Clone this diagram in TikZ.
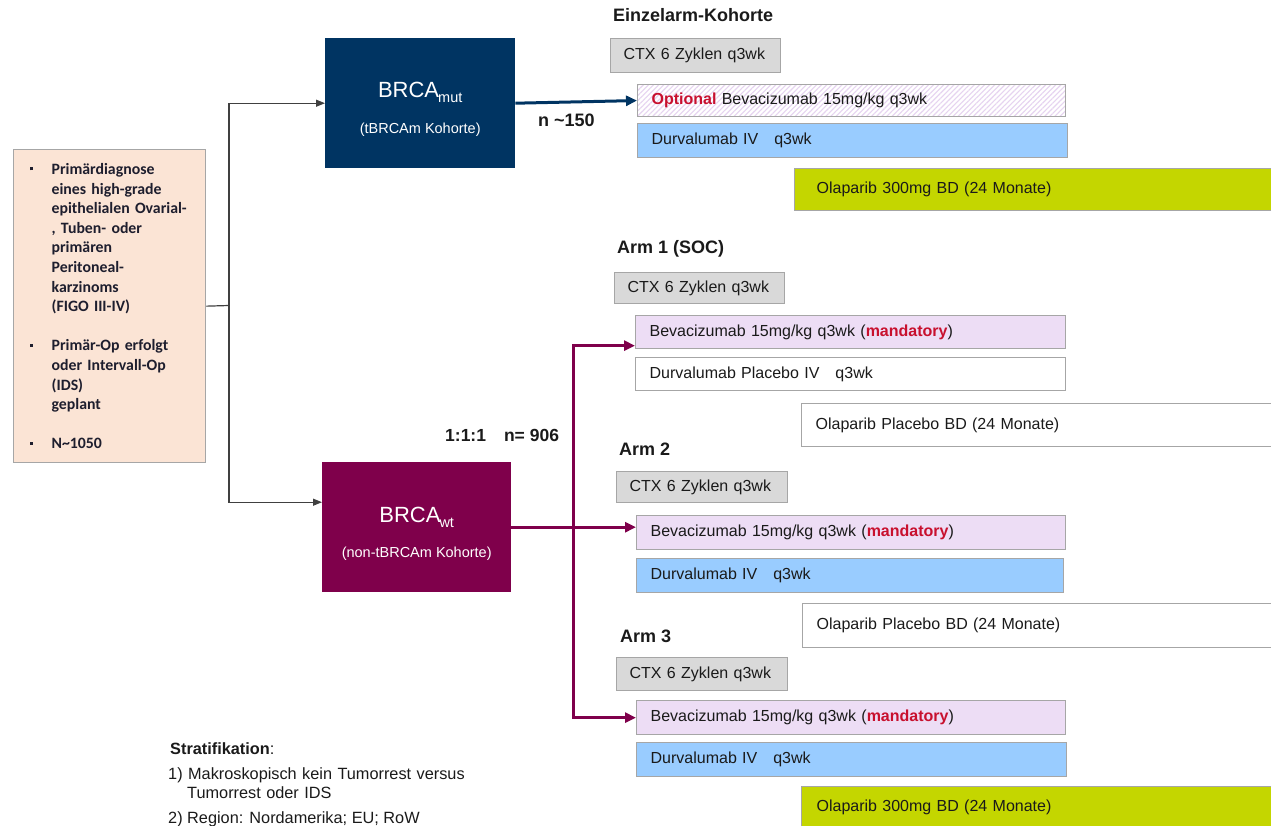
\documentclass[tikz,border=0pt]{standalone}
\usepackage{fontspec}
\setmainfont{Liberation Sans}
\newfontfamily\calib{Carlito}
\usetikzlibrary{arrows.meta,patterns.meta}
\definecolor{navy}{HTML}{003462}
\definecolor{plum}{HTML}{7F004B}
\definecolor{peach}{HTML}{FBE4D5}
\definecolor{ctxgray}{HTML}{D9D9D9}
\definecolor{edge}{HTML}{A6A6A6}
\definecolor{lav}{HTML}{EDDDF5}
\definecolor{skyb}{HTML}{99CCFF}
\definecolor{lime}{HTML}{C4D600}
\definecolor{redtx}{HTML}{C8102E}
\definecolor{txt}{HTML}{1A1A1A}
\definecolor{hatchc}{HTML}{E6D3F0}
\definecolor{lefttx}{HTML}{1E1E2E}
\newcommand{\blt}{\makebox[23pt][l]{\hspace*{1pt}\raisebox{4pt}{\rule{3pt}{3pt}}}}
\begin{document}
\begin{tikzpicture}[x=1pt,y=-1pt,
  bx/.style={draw=edge, line width=1.3pt, anchor=north west, inner ysep=0pt, inner xsep=14pt, align=left, font=\fontsize{16}{19}\selectfont, text=txt},
  ctx/.style={bx, fill=ctxgray, inner xsep=13pt},
  bev/.style={bx, fill=lav},
  durv/.style={bx, fill=skyb},
  plc/.style={bx, fill=white},
  ola/.style={bx, fill=lime},
  head/.style={anchor=west, inner sep=0pt, font=\fontsize{18}{21}\selectfont\bfseries, text=txt},
  cohort/.style={anchor=north west, minimum width=190pt, minimum height=130pt, inner sep=0pt},
  wline/.style={anchor=base, inner sep=0pt, text=white},
  gline/.style={draw=black!75, line width=1.2pt},
  garrow/.style={gline, -{Triangle[length=9pt,width=7pt]}},
  navyarrow/.style={draw=navy, line width=3pt, -{Triangle[length=11pt,width=10pt]}},
  plumline/.style={draw=plum, line width=3pt},
  plumarrow/.style={plumline, -{Triangle[length=11pt,width=10pt]}},
  strat/.style={anchor=base west, inner sep=0pt, text=txt, font=\fontsize{16.3}{19}\selectfont}
]
\useasboundingbox (0,0) rectangle (1271,825);
\clip (0,0) rectangle (1271,825);

% patient box
\node[draw=edge, line width=1.3pt, fill=peach, anchor=north west, minimum height=313pt,
      text width=162pt, inner xsep=15pt, inner ysep=0pt, align=left, text=lefttx,
      font=\calib\bfseries\fontsize{15.8}{19.6}\selectfont] (pat) at (13,149)
 {\blt Primärdiagnose\\
  \hspace*{23pt}eines high-grade\\
  \hspace*{23pt}epithelialen Ovarial-\\
  \hspace*{23pt}, Tuben- oder\\
  \hspace*{23pt}primären\\
  \hspace*{23pt}Peritoneal-\\
  \hspace*{23pt}karzinoms\\
  \hspace*{23pt}(FIGO III-IV)\\[19.6pt]
  \blt Primär-Op erfolgt\\
  \hspace*{23pt}oder Intervall-Op\\
  \hspace*{23pt}(IDS)\\
  \hspace*{23pt}geplant\\[19.6pt]
  \blt N\textasciitilde 1050};

% cohort boxes
\node[cohort, fill=navy] (mut) at (325,38) {};
\node[wline, font=\fontsize{22}{24}\selectfont] (mutA) at ([yshift=-59pt]mut.north)
  {BRCA\kern-1pt\raisebox{-5pt}{\fontsize{14.5}{15}\selectfont mut}};
\node[wline, font=\fontsize{14.5}{16}\selectfont] (mutB) at ([yshift=-95pt]mut.north) {(tBRCAm Kohorte)};

\node[cohort, fill=plum, minimum width=189pt] (wt) at (322,462) {};
\node[wline, font=\fontsize{22}{24}\selectfont] (wtA) at ([yshift=-60pt]wt.north)
  {BRCA\kern-1pt\raisebox{-5pt}{\fontsize{14.5}{15}\selectfont wt}};
\node[wline, font=\fontsize{14.5}{16}\selectfont] (wtB) at ([yshift=-95pt]wt.north) {(non-tBRCAm Kohorte)};

% Einzelarm
\node[head] (h0) at (613,15) {Einzelarm-Kohorte};
\node[ctx, text width=144pt, minimum height=34pt] (ctx1) at (610,38) {CTX 6 Zyklen q3wk};
\node[bx, text width=400pt, minimum height=32pt, preaction={fill=white},
      pattern={Lines[angle=45,distance=3.6pt,line width=1.1pt]}, pattern color=hatchc] (opt) at (637,84)
  {{\color{redtx}\bfseries Optional} Bevacizumab 15mg/kg q3wk};
\node[durv, text width=402pt, minimum height=34pt] (durv1) at (637,123) {Durvalumab IV\hspace{16pt}q3wk};
\node[ola, inner xsep=22pt, text width=480pt, minimum height=42pt] (ola1) at (794,168) {Olaparib 300mg BD (24 Monate)};
\node[head, font=\fontsize{18}{21}\selectfont\bfseries] (n1) at (538,120) {n \textasciitilde150};

% Arm 1
\node[head] (h1) at (617,249) {Arm 1 (SOC)};
\node[ctx, text width=144pt, minimum height=31pt] (ctx2) at (614,272) {CTX 6 Zyklen q3wk};
\node[bev, text width=402pt, minimum height=33pt] (bev1) at (635,315) {Bevacizumab 15mg/kg q3wk ({\color{redtx}\bfseries mandatory})};
\node[plc, text width=402pt, minimum height=33pt] (durvp) at (635,357) {Durvalumab Placebo IV\hspace{16pt}q3wk};
\node[plc, text width=480pt, minimum height=43pt] (olap1) at (801,403) {Olaparib Placebo BD (24 Monate)};

% Arm 2
\node[head] (h2) at (619,449) {Arm 2};
\node[ctx, text width=145pt, minimum height=31pt] (ctx3) at (616,471) {CTX 6 Zyklen q3wk};
\node[bev, text width=401pt, minimum height=34pt] (bev2) at (636,515) {Bevacizumab 15mg/kg q3wk ({\color{redtx}\bfseries mandatory})};
\node[durv, text width=399pt, minimum height=34pt] (durv2) at (636,558) {Durvalumab IV\hspace{16pt}q3wk};
\node[plc, text width=480pt, minimum height=44pt] (olap2) at (802,603) {Olaparib Placebo BD (24 Monate)};

% Arm 3
\node[head] (h3) at (620,636) {Arm 3};
\node[ctx, text width=145pt, minimum height=33pt] (ctx4) at (616,657) {CTX 6 Zyklen q3wk};
\node[bev, text width=401pt, minimum height=34pt] (bev3) at (636,700) {Bevacizumab 15mg/kg q3wk ({\color{redtx}\bfseries mandatory})};
\node[durv, text width=402pt, minimum height=34pt] (durv3) at (636,742) {Durvalumab IV\hspace{16pt}q3wk};
\node[ola, inner xsep=15pt, text width=480pt, minimum height=42pt] (ola2) at (801,786) {Olaparib 300mg BD (24 Monate)};

\node[head, font=\fontsize{17.5}{21}\selectfont\bfseries] (ratio) at (445,435) {1:1:1\hspace{18pt}n= 906};

% Stratifikation
\node[strat] (s0) at (170,754) {\textbf{Stratifikation}:};
\node[strat, text width=330pt, align=left] (s1) at (168,779)
  {1) Makroskopisch kein Tumorrest versus\\ \hspace*{19pt}Tumorrest oder IDS};
\node[strat] (s2) at (168,823) {2) Region: Nordamerika; EU; RoW};

% connectors
\coordinate (sp) at (229,305.5);
\draw[gline] (pat.east) -- (sp);
\draw[garrow] (sp) |- (mut.west);
\draw[garrow] (sp) |- ([yshift=25pt]wt.west);

\draw[navyarrow] (mut.east) -- (opt.west);

\coordinate (pv) at (573,527);
\draw[plumarrow] (wt.east) -- (wt.east -| bev2.west);
\draw[plumarrow] (pv) |- ([yshift=-13.5pt]bev1.west);
\draw[plumarrow] (pv) |- (bev3.west);
\end{tikzpicture}
\end{document}
